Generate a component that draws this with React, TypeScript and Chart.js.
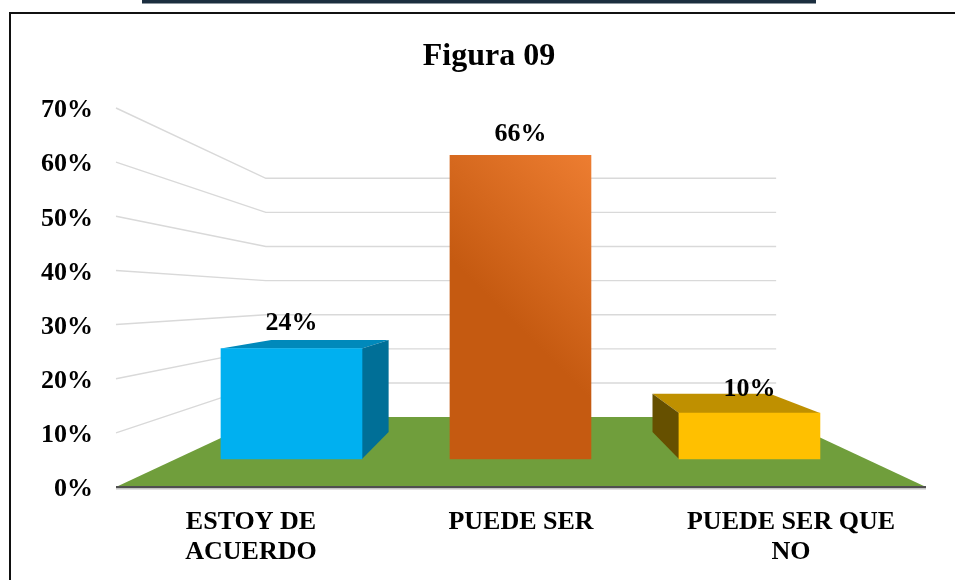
import React, { useEffect, useRef } from "react";
import { Chart, registerables } from "chart.js";

Chart.register(...registerables);

const categories = [["ESTOY DE", "ACUERDO"], ["PUEDE SER"], ["PUEDE SER QUE", "NO"]];
const barPositions = [0, 1, 2];
const values = [24, 66, 10];
const valueLabels = ["24%", "66%", "10%"];
const labelOffsets = [25, 21, 24];
const frontColors = ["#00b0f0", "#c55a11", "#ffc000"];
const sideColors = ["#006f97", "#a84d0e", "#665000"];
const topColors = ["#0089bb", "#ed7d31", "#bf9000"];
const gridValues = [10, 20, 30, 40, 50, 60, 70];

const SERIF = "'Liberation Serif', serif";
const VANISH_Y = 298;
const WALL_DEPTH = 0.63;
const BAR_DEPTH = 0.8325;
const BAR_WIDTH = 141;
const WALL_LIFT = 2.5;

const scene3d = {
  id: "scene3d",
  beforeDraw(chart: any) {
    const { ctx, width, height } = chart;
    ctx.save();
    ctx.fillStyle = "#ffffff";
    ctx.fillRect(0, 0, width, height);
    ctx.fillStyle = "#1b2e3f";
    ctx.fillRect(142, 0, 674, 3.5);
    ctx.strokeStyle = "#111111";
    ctx.lineWidth = 2;
    ctx.beginPath();
    ctx.moveTo(10, height);
    ctx.lineTo(10, 13);
    ctx.lineTo(width, 13);
    ctx.stroke();
    ctx.restore();
  },
  beforeDatasetsDraw(chart: any) {
    const { ctx, chartArea: a, scales } = chart;
    const cx = (a.left + a.right) / 2;
    const project = (x: number, y: number, k: number) => [cx + (x - cx) * k, VANISH_Y + (y - VANISH_Y) * k];
    const poly = (pts: number[][], fill: string) => {
      ctx.fillStyle = fill;
      ctx.beginPath();
      pts.forEach((p, i) => (i ? ctx.lineTo(p[0], p[1]) : ctx.moveTo(p[0], p[1])));
      ctx.closePath();
      ctx.fill();
    };
    ctx.save();
    // side-wall and back-wall gridlines
    ctx.strokeStyle = "#d9d9d9";
    ctx.lineWidth = 1.4;
    gridValues.forEach((v) => {
      const y = scales.y.getPixelForValue(v) - WALL_LIFT;
      const p = project(a.left, y, WALL_DEPTH);
      const q = project(a.right, y, WALL_DEPTH);
      ctx.beginPath();
      ctx.moveTo(a.left, y);
      ctx.lineTo(p[0], p[1]);
      ctx.lineTo(q[0], q[1]);
      ctx.stroke();
    });
    // floor
    const y0 = scales.y.getPixelForValue(0) - WALL_LIFT;
    poly(
      [[a.left, y0], [a.right, y0], project(a.right, y0, WALL_DEPTH), project(a.left, y0, WALL_DEPTH)],
      "#709e3c"
    );
    // bar tops and sides
    chart.getDatasetMeta(0).data.forEach((bar: any, i: number) => {
      const l = bar.x - bar.width / 2;
      const r = bar.x + bar.width / 2;
      const t = bar.y;
      const b = bar.base;
      if (t > VANISH_Y) {
        poly([[l, t], [r, t], project(r, t, BAR_DEPTH), project(l, t, BAR_DEPTH)], topColors[i]);
      }
      if (r < cx) {
        poly([[r, t], project(r, t, BAR_DEPTH), project(r, b, BAR_DEPTH), [r, b]], sideColors[i]);
      }
      if (l > cx) {
        poly([[l, t], project(l, t, BAR_DEPTH), project(l, b, BAR_DEPTH), [l, b]], sideColors[i]);
      }
    });
    ctx.restore();
  },
  afterDatasetsDraw(chart: any) {
    const { ctx, chartArea: a, scales } = chart;
    const y0 = scales.y.getPixelForValue(0) - WALL_LIFT;
    ctx.save();
    ctx.fillStyle = "#c4c4c4";
    ctx.fillRect(a.left, y0 + 1, a.right - a.left, 1.5);
    ctx.fillStyle = "#505050";
    ctx.fillRect(a.left, y0 - 1, a.right - a.left, 2);
    ctx.fillStyle = "#000000";
    ctx.font = `bold 26px ${SERIF}`;
    ctx.textAlign = "center";
    ctx.textBaseline = "middle";
    chart.getDatasetMeta(0).data.forEach((bar: any, i: number) => {
      ctx.fillText(valueLabels[i], bar.x, bar.y - labelOffsets[i]);
    });
    ctx.restore();
  },
};

export default function App() {
  const ref = useRef<HTMLCanvasElement | null>(null);
  useEffect(() => {
    const chart = new Chart(ref.current as HTMLCanvasElement, {
      type: "bar",
      data: {
        labels: categories as any,
        datasets: [
          {
            data: barPositions.map((x, i) => ({ x, y: values[i] })) as any,
            xAxisID: "x1",
            yAxisID: "y1",
            barThickness: BAR_WIDTH,
            backgroundColor: (c: any) => {
              if (c.dataIndex !== 1) return frontColors[c.dataIndex];
              const { scales, ctx } = c.chart;
              if (!scales.y1) return frontColors[1];
              const left = scales.x1.getPixelForValue(1) - BAR_WIDTH / 2;
              const bottom = scales.y1.getPixelForValue(0);
              const h = bottom - scales.y1.getPixelForValue(values[1]);
              const d = (BAR_WIDTH + h) / 2;
              const g = ctx.createLinearGradient(left, bottom, left + d, bottom - d);
              g.addColorStop(0, frontColors[1]);
              g.addColorStop(0.45, frontColors[1]);
              g.addColorStop(1, topColors[1]);
              return g;
            },
          },
        ],
      },
      options: {
        responsive: false,
        animation: false,
        layout: { padding: { left: 23, right: 0, top: 0, bottom: 0 } },
        plugins: {
          legend: { display: false },
          tooltip: { enabled: false },
          title: {
            display: true,
            text: "Figura 09",
            color: "#000000",
            font: { family: SERIF, size: 32, weight: "bold", lineHeight: 1.2 },
            padding: { top: 38, bottom: 34.1 },
          },
        },
        scales: {
          x: {
            type: "category",
            offset: true,
            grid: { display: false, tickLength: 0 },
            border: { display: false },
            afterFit: (s: any) => {
              s.height = 90.5;
            },
            ticks: {
              color: "#000000",
              autoSkip: false,
              maxRotation: 0,
              minRotation: 0,
              padding: 17.5,
              font: { family: SERIF, size: 26, weight: "bold", lineHeight: 1.15 },
            },
          },
          y: {
            min: 0,
            max: 70,
            grid: { display: false, tickLength: 0 },
            border: { display: false },
            afterFit: (s: any) => {
              s.width = 93;
            },
            ticks: {
              stepSize: 10,
              color: "#000000",
              padding: 23,
              font: { family: SERIF, size: 26, weight: "bold" },
              callback: (v: any) => `${v}%`,
            },
          },
          x1: { type: "linear", display: false, offset: false, min: -0.7664, max: 2.771 },
          y1: {
            position: "right",
            min: -6.63,
            max: 75.76,
            grid: { display: false, tickLength: 0 },
            border: { display: false },
            ticks: { display: false },
            afterFit: (s: any) => {
              s.width = 29;
            },
          },
        },
      } as any,
      plugins: [scene3d],
    });
    return () => chart.destroy();
  }, []);
  return (
    <canvas
      ref={ref}
      width={955}
      height={580}
      style={{ position: "absolute", left: 0, top: 0, width: 955, height: 580, filter: "blur(0.4px)" }}
    />
  );
}
